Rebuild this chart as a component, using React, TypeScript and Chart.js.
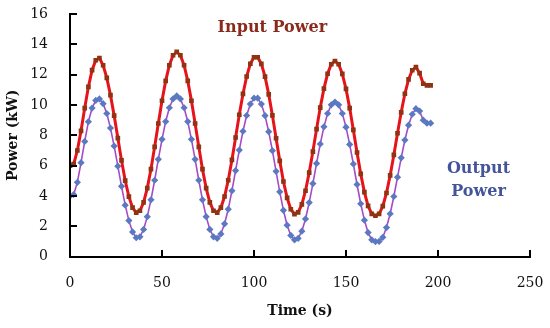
import React, { useEffect, useRef } from "react";
import { Chart, registerables } from "chart.js";

Chart.register(...registerables);

const times: number[] = [
  0, 2, 4, 6, 8, 10, 12, 14, 16, 18, 20, 22, 24, 26, 28, 30, 32, 34, 36, 38,
  40, 42, 44, 46, 48, 50, 52, 54, 56, 58, 60, 62, 64, 66, 68, 70, 72, 74, 76, 78,
  80, 82, 84, 86, 88, 90, 92, 94, 96, 98, 100, 102, 104, 106, 108, 110, 112, 114, 116, 118,
  120, 122, 124, 126, 128, 130, 132, 134, 136, 138, 140, 142, 144, 146, 148, 150, 152, 154, 156, 158,
  160, 162, 164, 166, 168, 170, 172, 174, 176, 178, 180, 182, 184, 186, 188, 190, 192, 194, 196,
];

const inputPower: number[] = [
  6.0, 6.1, 7.0, 8.3, 9.8, 11.2, 12.3, 12.95, 13.1, 12.62, 11.79, 10.65, 9.3, 7.82, 6.35, 5.02, 3.96, 3.23, 2.91, 3.03,
  3.58, 4.52, 5.77, 7.24, 8.78, 10.28, 11.59, 12.62, 13.28, 13.5, 13.28, 12.62, 11.59, 10.28, 8.78, 7.24, 5.77, 4.52, 3.58, 3.03,
  2.91, 3.23, 3.97, 5.04, 6.38, 7.86, 9.36, 10.73, 11.88, 12.72, 13.15, 13.15, 12.71, 11.87, 10.7, 9.32, 7.81, 6.32, 4.96, 3.88,
  3.13, 2.81, 2.92, 3.45, 4.35, 5.54, 6.93, 8.41, 9.83, 11.08, 12.06, 12.69, 12.9, 12.69, 12.05, 11.06, 9.8, 8.36, 6.87, 5.46,
  4.26, 3.35, 2.82, 2.7, 2.82, 3.33, 4.2, 5.36, 6.71, 8.14, 9.52, 10.74, 11.69, 12.29, 12.5, 12.1, 11.4, 11.3, 11.3,
];

const outputPower: number[] = [
  4.0, 4.1, 4.9, 6.2, 7.6, 8.9, 9.8, 10.3, 10.4, 10.09, 9.44, 8.48, 7.29, 5.97, 4.64, 3.4, 2.38, 1.63, 1.25, 1.31,
  1.8, 2.64, 3.75, 5.04, 6.42, 7.74, 8.91, 9.82, 10.4, 10.6, 10.4, 9.82, 8.91, 7.74, 6.42, 5.04, 3.75, 2.64, 1.8, 1.31,
  1.21, 1.5, 2.17, 3.13, 4.34, 5.68, 7.03, 8.27, 9.31, 10.06, 10.45, 10.45, 10.06, 9.3, 8.24, 6.99, 5.63, 4.28, 3.06, 2.08,
  1.4, 1.11, 1.21, 1.68, 2.49, 3.57, 4.82, 6.15, 7.43, 8.56, 9.44, 10.01, 10.2, 10.01, 9.44, 8.54, 7.4, 6.11, 4.76, 3.49,
  2.41, 1.59, 1.11, 1.0, 1.01, 1.28, 1.92, 2.83, 3.97, 5.24, 6.52, 7.69, 8.67, 9.39, 9.76, 9.6, 9.0, 8.8, 8.8,
];

const xTickStep = 50;
const yTickStep = 2;

const inputLabel = { text: "Input Power", x: 110, y: 15.1 };
const outputLabel = { lines: ["Output", "Power"], x: 222, y: [5.8, 4.3] };

const FONT = "'DejaVu Serif', serif";

const decorPlugin = {
  id: "decor",
  afterDatasetsDraw(chart: any) {
    const { ctx, chartArea, scales } = chart;
    const xs = scales.x;
    const ys = scales.y;
    const left = Math.round(chartArea.left);
    const right = Math.round(chartArea.right);
    const top = Math.round(chartArea.top);
    const bottom = Math.round(chartArea.bottom);
    ctx.save();
    ctx.strokeStyle = "#000000";
    ctx.lineWidth = 2;
    ctx.lineCap = "butt";
    ctx.beginPath();
    ctx.moveTo(left, top - 1);
    ctx.lineTo(left, bottom);
    ctx.lineTo(right + 1, bottom);
    xs.ticks.forEach((t: any) => {
      const px = Math.round(xs.getPixelForValue(t.value));
      ctx.moveTo(px, bottom);
      ctx.lineTo(px, bottom - 7);
    });
    ys.ticks.forEach((t: any) => {
      const py = Math.round(ys.getPixelForValue(t.value));
      ctx.moveTo(left, py);
      ctx.lineTo(left + 7, py);
    });
    ctx.stroke();

    ctx.textAlign = "center";
    ctx.textBaseline = "middle";
    ctx.font = `bold 16px ${FONT}`;
    ctx.fillStyle = "#8A2A1C";
    ctx.fillText(inputLabel.text, xs.getPixelForValue(inputLabel.x), ys.getPixelForValue(inputLabel.y));
    ctx.fillStyle = "#44549A";
    outputLabel.lines.forEach((line, i) => {
      ctx.fillText(line, xs.getPixelForValue(outputLabel.x), ys.getPixelForValue(outputLabel.y[i]));
    });
    ctx.restore();
  },
};

export default function App() {
  const ref = useRef<HTMLCanvasElement | null>(null);
  useEffect(() => {
    if (!ref.current) return;
    const chart = new Chart(ref.current, {
      type: "line",
      data: {
        datasets: [
          {
            label: "Input Power",
            data: times.map((t, i) => ({ x: t, y: inputPower[i] })),
            borderColor: "#E5131A",
            borderWidth: 3,
            pointStyle: "rect",
            pointRadius: 3.3,
            pointBackgroundColor: "#8E3412",
            pointBorderColor: "#8E3412",
            pointBorderWidth: 0,
            tension: 0,
          },
          {
            label: "Output Power",
            data: times.map((t, i) => ({ x: t, y: outputPower[i] })),
            borderColor: "#A64AC9",
            borderWidth: 1.6,
            pointStyle: "rectRot",
            pointRadius: 3.6,
            pointBackgroundColor: "#5B78C2",
            pointBorderColor: "#5B78C2",
            pointBorderWidth: 0,
            tension: 0,
          },
        ],
      },
      options: {
        responsive: false,
        animation: false,
        layout: { padding: { left: 0, top: 14, right: 20, bottom: 0 } },
        plugins: { legend: { display: false }, tooltip: { enabled: false } },
        scales: {
          x: {
            type: "linear",
            min: 0,
            max: 250,
            afterFit: (s: any) => {
              s.height = 71.3;
              s.paddingLeft = 0;
              s.paddingRight = 0;
            },
            ticks: {
              stepSize: xTickStep,
              padding: 18,
              color: "#111",
              font: { family: FONT, size: 14 },
              maxRotation: 0,
            },
            grid: { display: true, drawOnChartArea: false, drawTicks: false },
            border: { display: true, color: "#000", width: 2 },
            title: {
              display: true,
              text: "Time (s)",
              color: "#111",
              font: { family: FONT, size: 14, weight: "bold" },
              padding: { top: 0, bottom: 8 },
            },
          },
          y: {
            min: 0,
            max: 16,
            afterFit: (s: any) => {
              s.width = 70;
              s.paddingTop = 0;
              s.paddingBottom = 0;
            },
            ticks: {
              stepSize: yTickStep,
              padding: 22,
              color: "#111",
              font: { family: FONT, size: 14 },
            },
            grid: { display: true, drawOnChartArea: false, drawTicks: false },
            border: { display: true, color: "#000", width: 2 },
            title: {
              display: true,
              text: "Power (kW)",
              color: "#111",
              font: { family: FONT, size: 14, weight: "bold" },
              padding: { top: 5, bottom: 0 },
            },
          },
        },
      },
      plugins: [decorPlugin],
    });
    return () => chart.destroy();
  }, []);
  return (
    <div style={{ position: "fixed", left: 0, top: 0, width: 550, height: 328, background: "#fff" }}>
      <canvas ref={ref} width={550} height={328} />
    </div>
  );
}
